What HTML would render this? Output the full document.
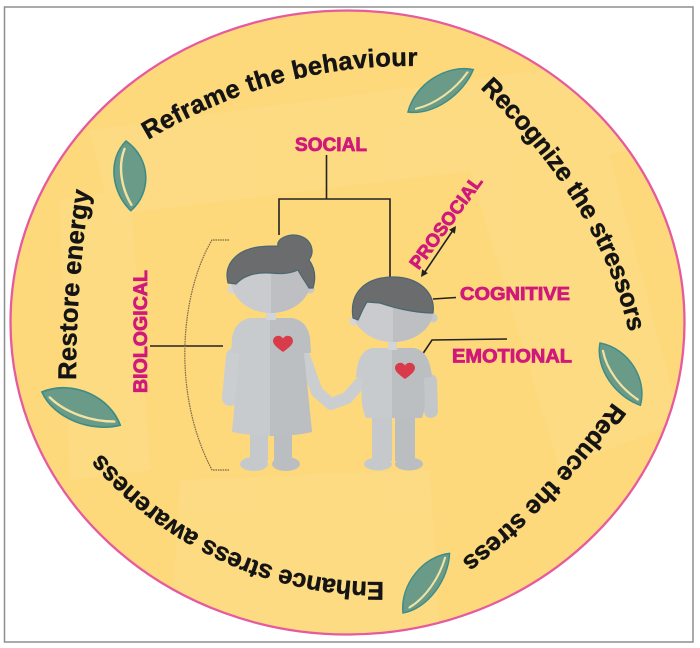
<!DOCTYPE html>
<html><head><meta charset="utf-8"><style>
html,body{margin:0;padding:0;background:#fff;}
svg{display:block;}
</style></head><body>
<svg width="700" height="648" viewBox="0 0 700 648" xmlns="http://www.w3.org/2000/svg">
<defs>
<clipPath id="ell"><ellipse cx="347.5" cy="322.5" rx="336" ry="311"/></clipPath>
<path id="p1" d="M148,140 Q277,63 418,66"/>
<path id="p2" d="M480,88 Q599.5,204 629,332"/>
<path id="p3" d="M613,402 Q542.5,499 462,560"/>
<path id="p4" d="M384,582 A364,364 0 0,1 101,453"/>
<path id="p5" d="M76,380 Q76,285 90,190"/>
<g id="leaf">
<path d="M0,0 C20,-24 55,-22 72,0 C52,18 18,20 0,0 Z" fill="#699B88" stroke="#3E8C87" stroke-width="1.6"/>
<path d="M8,2 C25,10 48,8 66,-1" fill="none" stroke="#F3E3A2" stroke-width="2.4" stroke-linecap="round"/>
</g>
</defs>
<rect x="0" y="0" width="700" height="648" fill="#fff"/>
<rect x="4.5" y="7" width="688.5" height="635" fill="none" stroke="#8e8e8e" stroke-width="1.5"/>
<ellipse cx="347.5" cy="322.5" rx="337" ry="312" fill="#FDD97C"/>
<g clip-path="url(#ell)" fill="#fff" opacity="0.06">
<polygon points="90,130 620,60 640,150 110,215"/>
<polygon points="470,170 600,120 680,420 560,470"/>
<polygon points="180,480 430,470 440,640 170,640"/>
<polygon points="60,200 130,190 150,470 70,480"/>
</g>
<ellipse cx="347.5" cy="322.5" rx="337" ry="312" fill="none" stroke="#E65A9E" stroke-width="2.3"/>

<!-- leaves -->
<use href="#leaf" transform="translate(126,141) rotate(86) scale(0.97,1)"/>
<use href="#leaf" transform="translate(408,112) rotate(-33) scale(1.08,0.85)"/>
<use href="#leaf" transform="translate(600,343) rotate(57) scale(1.03,0.9)"/>
<use href="#leaf" transform="translate(403,613) rotate(-52) scale(1.05,0.85)"/>
<use href="#leaf" transform="translate(42,392) rotate(23) scale(1.18,1)"/>

<!-- curved texts -->
<g font-family="Liberation Sans, Arial, sans-serif" font-weight="bold" font-size="25.5" fill="#141414" stroke="#141414" stroke-width="0.45">
<text><textPath href="#p1" textLength="283" lengthAdjust="spacing">Reframe the behaviour</textPath></text>
<text><textPath href="#p2" textLength="290" lengthAdjust="spacing">Recognize the stressors</textPath></text>
<text><textPath href="#p3" textLength="220" lengthAdjust="spacing">Reduce the stress</textPath></text>
<text><textPath href="#p4" textLength="321" lengthAdjust="spacing">Enhance stress awareness</textPath></text>
<text><textPath href="#p5" textLength="190" lengthAdjust="spacing">Restore energy</textPath></text>
</g>

<!-- connectors -->
<g stroke="#222" stroke-width="1.6" fill="none">
<path d="M326.5,155 V199"/>
<path d="M279,235 V199 H390 V277"/>
<path d="M150,346 H223"/>
<path d="M433,299 L456,297.5"/>
<path d="M422,355 L432,340 L507,339"/>
<path d="M424.5,272.5 L452.5,231"/>
</g>
<polygon points="456,226 454.9,233.7 449.1,229.7" fill="#222"/>
<polygon points="421,277 427.9,273.3 422.1,269.3" fill="#222"/>
<path d="M229,240 L212,240 C182,290 170,390 212,470 L229,470" fill="none" stroke="#7d6a4a" stroke-width="1.2" stroke-dasharray="1.6 0.8"/>

<!-- magenta labels -->
<g font-family="Liberation Sans, Arial, sans-serif" font-weight="bold" fill="#D0197A" stroke="#D0197A" stroke-width="0.8">
<text x="295" y="151" font-size="19" textLength="72" lengthAdjust="spacingAndGlyphs">SOCIAL</text>
<text x="460" y="300" font-size="18" textLength="110" lengthAdjust="spacingAndGlyphs">COGNITIVE</text>
<text x="452" y="362.5" font-size="19" textLength="120" lengthAdjust="spacingAndGlyphs">EMOTIONAL</text>
<text x="147" y="331.5" font-size="19" text-anchor="middle" textLength="123" lengthAdjust="spacingAndGlyphs" transform="rotate(-90 147 331.5)">BIOLOGICAL</text>
<text x="451" y="226" font-size="18.5" text-anchor="middle" textLength="110" lengthAdjust="spacingAndGlyphs" transform="rotate(-54 451 226)">PROSOCIAL</text>
</g>

<!-- woman -->
<g>
<path d="M234,356 L230,398" stroke="#CBCED1" stroke-width="16" stroke-linecap="round" fill="none"/>
<path d="M304,356 L317,392 L331,404" stroke="#CBCED1" stroke-width="12" stroke-linecap="round" stroke-linejoin="round" fill="none"/>
<rect x="250" y="425" width="18" height="36" fill="#C6C9CC"/>
<rect x="274" y="425" width="18" height="36" fill="#BBBEC1"/>
<ellipse cx="254" cy="464" rx="14" ry="7" fill="#C6C9CC"/>
<ellipse cx="286" cy="464" rx="14" ry="7" fill="#BBBEC1"/>
<path d="M250,318 L292,318 C302,320 308,326 310,338 L311,353 L304,353 L312,432 C290,437 255,437 232,432 L239,353 L231,353 L232,338 C234,326 240,320 250,318 Z" fill="#C8CBCE"/>
<path d="M270,318 L292,318 C302,320 308,326 310,338 L311,353 L304,353 L312,432 C300,435 285,436 270,436 Z" fill="#BCBFC2"/>
<rect x="266" y="310" width="10" height="10" fill="#D2D4D6"/>
<circle cx="232" cy="289" r="4.5" fill="#D3D5D7"/>
<circle cx="310" cy="289" r="4.5" fill="#C6C8CA"/>
<ellipse cx="271" cy="280" rx="40" ry="33" fill="#C9CBCE"/>
<path d="M271,247 A40,33 0 0,1 271,313 Z" fill="#BDBFC2"/>
<path d="M228,283 C223,263 238,250 258,247 C265,246 272,246 278,246 C276,238 290,233 300,236 C312,240 315,252 309,260 C315,268 316,278 313,288 L309,288 C305,281 301,276 298,270 C289,274 280,274 270,273 C255,272 243,276 236,284 Z" fill="#6B6C6E" stroke="#4B6670" stroke-width="1.2"/>
<path d="M283,352 C279,349 273,345 273,341 C273,337 277,335 280,336 C282,337 283,338 283,339 C283,338 284,337 286,336 C289,335 293,337 293,341 C293,345 287,349 283,352 Z" fill="#D83C4A"/>
</g>

<!-- boy -->
<g>
<path d="M362,381 L347,398 L331,404" stroke="#CBCED1" stroke-width="12" stroke-linecap="round" stroke-linejoin="round" fill="none"/>
<path d="M430,381 L431,411" stroke="#C4C7CA" stroke-width="14" stroke-linecap="round" fill="none"/>
<rect x="372" y="412" width="20" height="49" fill="#C6C9CC"/>
<rect x="395" y="412" width="20" height="49" fill="#BBBEC1"/>
<ellipse cx="378" cy="464" rx="14" ry="6.5" fill="#C6C9CC"/>
<ellipse cx="409" cy="464" rx="14" ry="6.5" fill="#BBBEC1"/>
<path d="M372,348 L414,348 C424,350 430,358 432,377 L424,378 C424,392 427,405 422,418 L366,418 C360,405 362,392 362,378 L356,377 C357,360 362,350 372,348 Z" fill="#C8CBCE"/>
<path d="M392,348 L414,348 C424,350 430,358 432,377 L424,378 C424,392 427,405 422,418 L392,418 Z" fill="#BCBFC2"/>
<rect x="388" y="340" width="9" height="10" fill="#D2D4D6"/>
<circle cx="354" cy="321" r="4.5" fill="#D3D5D7"/>
<circle cx="433" cy="318" r="4.5" fill="#C6C8CA"/>
<ellipse cx="393" cy="311" rx="40" ry="31" fill="#C9CBCE"/>
<path d="M393,280 A40,31 0 0,1 393,342 Z" fill="#BDBFC2"/>
<path d="M353,318 C349,292 366,277 393,277 C419,277 436,293 433,313 C420,313 400,310 380,303 L367,302 C363,308 361,314 358,320 Z" fill="#6B6C6E" stroke="#4B6670" stroke-width="1.2"/>
<path d="M405,379 C401,376 395,372 395,368 C395,364 399,362 402,363 C404,364 405,365 405,366 C405,365 406,364 408,363 C411,362 415,364 415,368 C415,372 409,376 405,379 Z" fill="#D83C4A"/>
</g>
</svg>
</body></html>
